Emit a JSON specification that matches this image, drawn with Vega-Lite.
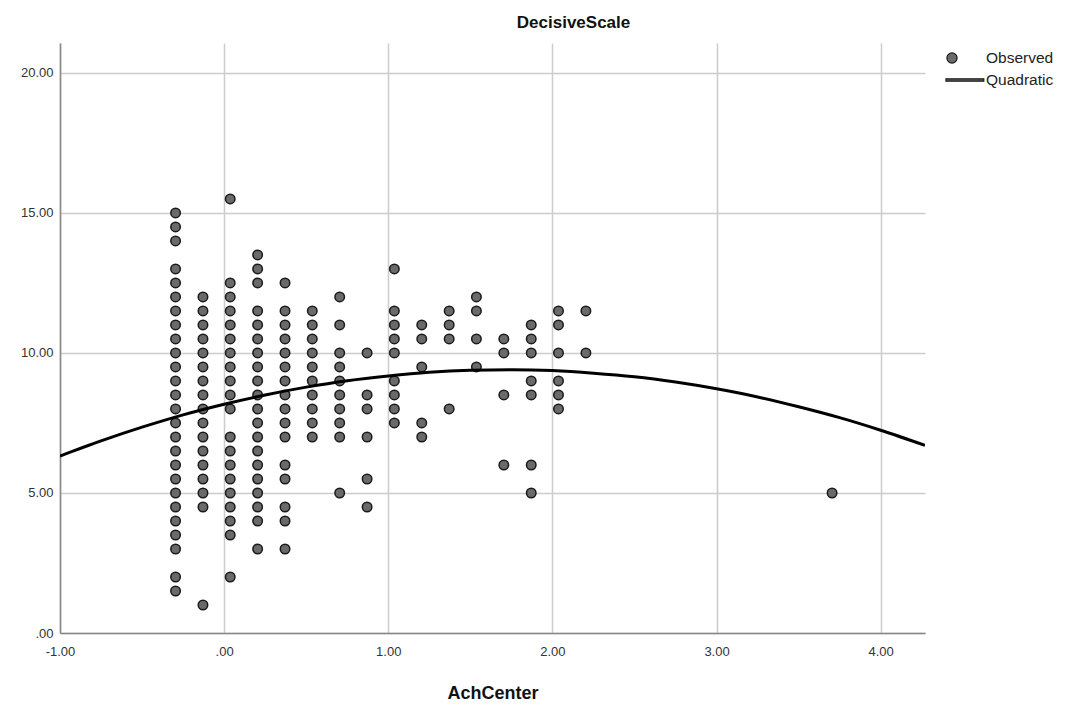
{
  "$schema": "https://vega.github.io/schema/vega-lite/v6.json",
  "autosize": "none",
  "width": 865,
  "height": 590,
  "padding": {"left": 60, "top": 43, "right": 147, "bottom": 75},
  "background": "white",
  "title": {"text": "DecisiveScale", "font": "Liberation Sans", "fontSize": 17, "fontWeight": "bold", "color": "#111", "anchor": "middle", "dx": 81, "offset": 11},
  "config": {
    "view": {"stroke": null},
    "axis": {"labelFont": "Liberation Sans", "labelFontSize": 13, "labelColor": "#333", "labelFlush": false, "ticks": false, "gridColor": "#cccccc", "gridWidth": 1.5, "domainColor": "#888", "domainWidth": 1.5, "titleFont": "Liberation Sans", "titleFontSize": 18, "titleFontWeight": "bold", "titleColor": "#111"}
  },
  "datasets": {
    "observed": [
      {"x": -0.296, "y": 15}, {"x": -0.296, "y": 14.5}, {"x": -0.296, "y": 14}, {"x": -0.296, "y": 13}, {"x": -0.296, "y": 12.5}, {"x": -0.296, "y": 12}, {"x": -0.296, "y": 11.5}, {"x": -0.296, "y": 11}, {"x": -0.296, "y": 10.5}, {"x": -0.296, "y": 10}, {"x": -0.296, "y": 9.5}, {"x": -0.296, "y": 9}, {"x": -0.296, "y": 8.5}, {"x": -0.296, "y": 8}, {"x": -0.296, "y": 7.5}, {"x": -0.296, "y": 7}, {"x": -0.296, "y": 6.5}, {"x": -0.296, "y": 6}, {"x": -0.296, "y": 5.5}, {"x": -0.296, "y": 5}, {"x": -0.296, "y": 4.5}, {"x": -0.296, "y": 4}, {"x": -0.296, "y": 3.5}, {"x": -0.296, "y": 3}, {"x": -0.296, "y": 2}, {"x": -0.296, "y": 1.5},
      {"x": -0.129, "y": 12}, {"x": -0.129, "y": 11.5}, {"x": -0.129, "y": 11}, {"x": -0.129, "y": 10.5}, {"x": -0.129, "y": 10}, {"x": -0.129, "y": 9.5}, {"x": -0.129, "y": 9}, {"x": -0.129, "y": 8.5}, {"x": -0.129, "y": 8}, {"x": -0.129, "y": 7.5}, {"x": -0.129, "y": 7}, {"x": -0.129, "y": 6.5}, {"x": -0.129, "y": 6}, {"x": -0.129, "y": 5.5}, {"x": -0.129, "y": 5}, {"x": -0.129, "y": 4.5}, {"x": -0.129, "y": 1},
      {"x": 0.037, "y": 15.5}, {"x": 0.037, "y": 12.5}, {"x": 0.037, "y": 12}, {"x": 0.037, "y": 11.5}, {"x": 0.037, "y": 11}, {"x": 0.037, "y": 10.5}, {"x": 0.037, "y": 10}, {"x": 0.037, "y": 9.5}, {"x": 0.037, "y": 9}, {"x": 0.037, "y": 8.5}, {"x": 0.037, "y": 8}, {"x": 0.037, "y": 7}, {"x": 0.037, "y": 6.5}, {"x": 0.037, "y": 6}, {"x": 0.037, "y": 5.5}, {"x": 0.037, "y": 5}, {"x": 0.037, "y": 4.5}, {"x": 0.037, "y": 4}, {"x": 0.037, "y": 3.5}, {"x": 0.037, "y": 2},
      {"x": 0.204, "y": 13.5}, {"x": 0.204, "y": 13}, {"x": 0.204, "y": 12.5}, {"x": 0.204, "y": 11.5}, {"x": 0.204, "y": 11}, {"x": 0.204, "y": 10.5}, {"x": 0.204, "y": 10}, {"x": 0.204, "y": 9.5}, {"x": 0.204, "y": 9}, {"x": 0.204, "y": 8.5}, {"x": 0.204, "y": 8}, {"x": 0.204, "y": 7.5}, {"x": 0.204, "y": 7}, {"x": 0.204, "y": 6.5}, {"x": 0.204, "y": 6}, {"x": 0.204, "y": 5.5}, {"x": 0.204, "y": 5}, {"x": 0.204, "y": 4.5}, {"x": 0.204, "y": 4}, {"x": 0.204, "y": 3},
      {"x": 0.371, "y": 12.5}, {"x": 0.371, "y": 11.5}, {"x": 0.371, "y": 11}, {"x": 0.371, "y": 10.5}, {"x": 0.371, "y": 10}, {"x": 0.371, "y": 9.5}, {"x": 0.371, "y": 9}, {"x": 0.371, "y": 8.5}, {"x": 0.371, "y": 8}, {"x": 0.371, "y": 7.5}, {"x": 0.371, "y": 7}, {"x": 0.371, "y": 6}, {"x": 0.371, "y": 5.5}, {"x": 0.371, "y": 4.5}, {"x": 0.371, "y": 4}, {"x": 0.371, "y": 3},
      {"x": 0.537, "y": 11.5}, {"x": 0.537, "y": 11}, {"x": 0.537, "y": 10.5}, {"x": 0.537, "y": 10}, {"x": 0.537, "y": 9.5}, {"x": 0.537, "y": 9}, {"x": 0.537, "y": 8.5}, {"x": 0.537, "y": 8}, {"x": 0.537, "y": 7.5}, {"x": 0.537, "y": 7},
      {"x": 0.704, "y": 12}, {"x": 0.704, "y": 11}, {"x": 0.704, "y": 10}, {"x": 0.704, "y": 9.5}, {"x": 0.704, "y": 9}, {"x": 0.704, "y": 8.5}, {"x": 0.704, "y": 8}, {"x": 0.704, "y": 7.5}, {"x": 0.704, "y": 7}, {"x": 0.704, "y": 5},
      {"x": 0.871, "y": 10}, {"x": 0.871, "y": 8.5}, {"x": 0.871, "y": 8}, {"x": 0.871, "y": 7}, {"x": 0.871, "y": 5.5}, {"x": 0.871, "y": 4.5},
      {"x": 1.037, "y": 13}, {"x": 1.037, "y": 11.5}, {"x": 1.037, "y": 11}, {"x": 1.037, "y": 10.5}, {"x": 1.037, "y": 10}, {"x": 1.037, "y": 9}, {"x": 1.037, "y": 8.5}, {"x": 1.037, "y": 8}, {"x": 1.037, "y": 7.5},
      {"x": 1.204, "y": 11}, {"x": 1.204, "y": 10.5}, {"x": 1.204, "y": 9.5}, {"x": 1.204, "y": 7.5}, {"x": 1.204, "y": 7},
      {"x": 1.371, "y": 11.5}, {"x": 1.371, "y": 11}, {"x": 1.371, "y": 10.5}, {"x": 1.371, "y": 8},
      {"x": 1.537, "y": 12}, {"x": 1.537, "y": 11.5}, {"x": 1.537, "y": 10.5}, {"x": 1.537, "y": 9.5},
      {"x": 1.704, "y": 10.5}, {"x": 1.704, "y": 10}, {"x": 1.704, "y": 8.5}, {"x": 1.704, "y": 6},
      {"x": 1.871, "y": 11}, {"x": 1.871, "y": 10.5}, {"x": 1.871, "y": 10}, {"x": 1.871, "y": 9}, {"x": 1.871, "y": 8.5}, {"x": 1.871, "y": 6}, {"x": 1.871, "y": 5},
      {"x": 2.037, "y": 11.5}, {"x": 2.037, "y": 11}, {"x": 2.037, "y": 10}, {"x": 2.037, "y": 9}, {"x": 2.037, "y": 8.5}, {"x": 2.037, "y": 8},
      {"x": 2.204, "y": 11.5}, {"x": 2.204, "y": 10},
      {"x": 3.704, "y": 5}
    ],
    "quadratic": [
      {"x": -1, "y": 6.32}, {"x": -0.75, "y": 6.86}, {"x": -0.5, "y": 7.35}, {"x": -0.25, "y": 7.79}, {"x": 0, "y": 8.17}, {"x": 0.25, "y": 8.5}, {"x": 0.5, "y": 8.78}, {"x": 0.75, "y": 9.01}, {"x": 1, "y": 9.18}, {"x": 1.25, "y": 9.31}, {"x": 1.5, "y": 9.38}, {"x": 1.75, "y": 9.4}, {"x": 2, "y": 9.37}, {"x": 2.25, "y": 9.28}, {"x": 2.5, "y": 9.15}, {"x": 2.75, "y": 8.96}, {"x": 3, "y": 8.72}, {"x": 3.25, "y": 8.43}, {"x": 3.5, "y": 8.08}, {"x": 3.75, "y": 7.69}, {"x": 4, "y": 7.24}, {"x": 4.27, "y": 6.7}
    ]
  },
  "layer": [
    {
      "data": {"name": "observed"},
      "mark": {"type": "point", "filled": true, "fill": "#6a6a6a", "stroke": "#1a1a1a", "strokeWidth": 1.5, "opacity": 1, "size": 174},
      "encoding": {
        "x": {"field": "x", "type": "quantitative", "scale": {"domain": [-1, 4.27], "nice": false, "zero": false},
              "axis": {"values": [-1, 0, 1, 2, 3, 4], "title": "AchCenter", "labelPadding": 12, "titlePadding": 26,
                       "labelExpr": "datum.value == 0 ? '.00' : (datum.value < 0 ? '-' + format(-datum.value, '.2f') : format(datum.value, '.2f'))"}},
        "y": {"field": "y", "type": "quantitative", "scale": {"domain": [0, 21.07], "nice": false, "zero": true},
              "axis": {"values": [0, 5, 10, 15, 20], "title": null, "labelPadding": 7,
                       "labelExpr": "datum.value == 0 ? '.00' : format(datum.value, '.2f')"}},
        "shape": {"datum": "Observed", "type": "nominal",
                  "scale": {"domain": ["Observed", "Quadratic"], "range": ["M-0.72,0A0.72,0.72 0 1,0 0.72,0A0.72,0.72 0 1,0 -0.72,0Z", "M-0.85,-0.16H4.5V0.16H-0.85Z"]},
                  "legend": {"orient": "none", "legendX": 884, "legendY": 7, "title": null, "padding": 0,
                             "labelFont": "Liberation Sans", "labelFontSize": 15.5, "labelColor": "#222",
                             "symbolSize": 200, "rowPadding": 5, "labelOffset": 26, "symbolStrokeWidth": 1.2,
                             "encode": {"symbols": {
                               "fill": {"value": {"expr": "datum.value === 'Observed' ? '#6a6a6a' : '#000'"}},
                               "stroke": {"value": "#000"}
                             }}}}
      }
    },
    {
      "data": {"name": "quadratic"},
      "mark": {"type": "line", "color": "#000", "strokeWidth": 3, "interpolate": "monotone", "clip": true},
      "encoding": {
        "x": {"field": "x", "type": "quantitative"},
        "y": {"field": "y", "type": "quantitative"}
      }
    }
  ]
}
